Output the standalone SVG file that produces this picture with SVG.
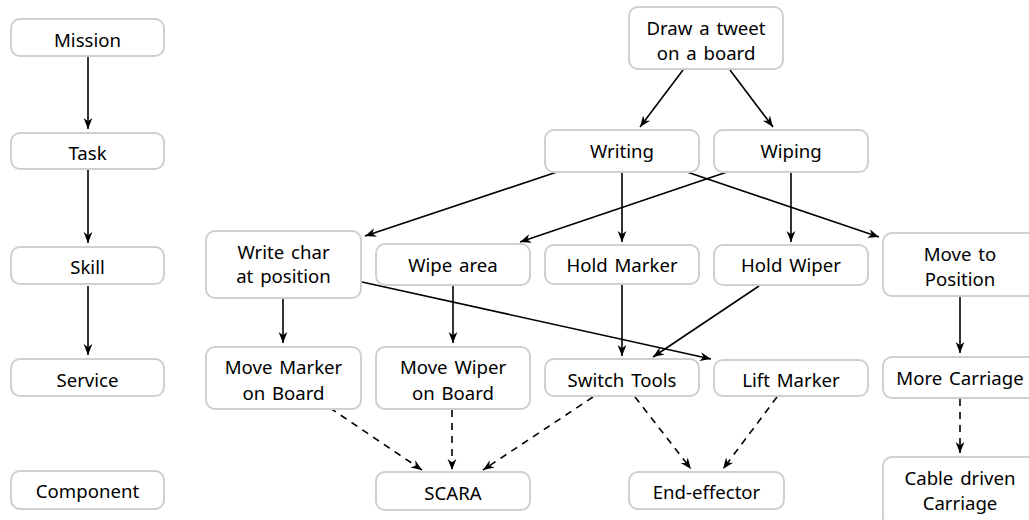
<svg xmlns="http://www.w3.org/2000/svg" width="1029" height="520" viewBox="0 0 1029 520">
<defs>
<marker id="ah" viewBox="0 0 10 10" refX="10" refY="5" markerWidth="11" markerHeight="11" markerUnits="userSpaceOnUse" orient="auto">
<path d="M0,1 L10,5 L0,9 L3,5 z" fill="#000"/>
</marker>
</defs>
<style>
.box{fill:#fff;stroke:#cfcfcf;stroke-width:2}
text{font-family:"Noto Sans","Open Sans","DejaVu Sans",sans-serif;font-size:18.6px;word-spacing:2px;fill:#000;text-anchor:middle}
.e{fill:none;stroke:#000;stroke-width:1.6;marker-end:url(#ah)}
.d{stroke-dasharray:7,6}
</style>
<rect width="1029" height="520" fill="#fff"/>
<g id="connectors">
<line class="e" x1="88" y1="57" x2="88" y2="129"/>
<line class="e" x1="88" y1="170" x2="88" y2="243"/>
<line class="e" x1="88" y1="286" x2="88" y2="355"/>
<line class="e" x1="683" y1="70" x2="640" y2="127"/>
<line class="e" x1="730" y1="70" x2="773" y2="127"/>
<line class="e" x1="557" y1="172" x2="365" y2="236"/>
<line class="e" x1="727" y1="172" x2="520" y2="242"/>
<line class="e" x1="622" y1="172" x2="622" y2="242"/>
<line class="e" x1="687" y1="172" x2="879" y2="237"/>
<line class="e" x1="791" y1="172" x2="791" y2="242"/>
<line class="e" x1="283" y1="298" x2="283" y2="343"/>
<line class="e" x1="453" y1="286" x2="453" y2="343"/>
<line class="e" x1="622" y1="284" x2="622" y2="356"/>
<line class="e" x1="759" y1="286" x2="653" y2="357"/>
<line class="e" x1="362" y1="282" x2="711" y2="359"/>
<line class="e" x1="960" y1="297" x2="960" y2="353"/>
<line class="e d" x1="330" y1="408" x2="422" y2="470"/>
<line class="e d" x1="452" y1="410" x2="452" y2="470"/>
<line class="e d" x1="593" y1="397" x2="483" y2="470"/>
<line class="e d" x1="635" y1="397" x2="691" y2="469"/>
<line class="e d" x1="777" y1="397" x2="723" y2="469"/>
<line class="e d" x1="960" y1="399" x2="960" y2="453"/>
</g>
<g id="mission"><rect class="box" x="11" y="19" width="153" height="37" rx="9"/><text x="87.5" y="47">Mission</text></g>
<g id="task"><rect class="box" x="11" y="133" width="153" height="36" rx="9"/><text x="87.5" y="160">Task</text></g>
<g id="skill"><rect class="box" x="11" y="247" width="153" height="37" rx="9"/><text x="87.5" y="274">Skill</text></g>
<g id="service"><rect class="box" x="11" y="359" width="153" height="37" rx="9"/><text x="87.5" y="387">Service</text></g>
<g id="component"><rect class="box" x="11" y="471" width="153" height="38" rx="9"/><text x="87.5" y="498">Component</text></g>
<g id="draw-tweet"><rect class="box" x="629" y="7" width="154" height="62" rx="9"/><text x="706" y="35">Draw a tweet</text><text x="706" y="60">on a board</text></g>
<g id="writing"><rect class="box" x="545" y="130" width="154" height="42" rx="9"/><text x="622" y="158">Writing</text></g>
<g id="wiping"><rect class="box" x="714" y="130" width="154" height="42" rx="9"/><text x="791" y="158">Wiping</text></g>
<g id="write-char"><rect class="box" x="206" y="231" width="155" height="67" rx="9"/><text x="283.5" y="259">Write char</text><text x="283.5" y="283">at position</text></g>
<g id="wipe-area"><rect class="box" x="376" y="244" width="154" height="41" rx="9"/><text x="453" y="272">Wipe area</text></g>
<g id="hold-marker"><rect class="box" x="545" y="245" width="154" height="39" rx="9"/><text x="622" y="272">Hold Marker</text></g>
<g id="hold-wiper"><rect class="box" x="714" y="245" width="154" height="40" rx="9"/><text x="791" y="272">Hold Wiper</text></g>
<g id="move-to-position"><rect class="box" x="883" y="233" width="154" height="63" rx="9"/><text x="960" y="261">Move to</text><text x="960" y="286">Position</text></g>
<g id="move-marker"><rect class="box" x="206" y="347" width="155" height="62" rx="9"/><text x="283.5" y="374">Move Marker</text><text x="283.5" y="400">on Board</text></g>
<g id="move-wiper"><rect class="box" x="376" y="347" width="154" height="62" rx="9"/><text x="453" y="374">Move Wiper</text><text x="453" y="400">on Board</text></g>
<g id="switch-tools"><rect class="box" x="545" y="359" width="154" height="37" rx="9"/><text x="622" y="387">Switch Tools</text></g>
<g id="lift-marker"><rect class="box" x="714" y="360" width="154" height="36" rx="9"/><text x="791" y="387">Lift Marker</text></g>
<g id="more-carriage"><rect class="box" x="883" y="357" width="154" height="41" rx="9"/><text x="960" y="385">More Carriage</text></g>
<g id="scara"><rect class="box" x="376" y="472" width="154" height="38" rx="9"/><text x="453" y="500">SCARA</text></g>
<g id="end-effector"><rect class="box" x="629" y="472" width="155" height="37" rx="9"/><text x="706.5" y="499">End-effector</text></g>
<g id="cable-carriage"><rect class="box" x="883" y="457" width="154" height="70" rx="9"/><text x="960" y="485">Cable driven</text><text x="960" y="510">Carriage</text></g>
</svg>
